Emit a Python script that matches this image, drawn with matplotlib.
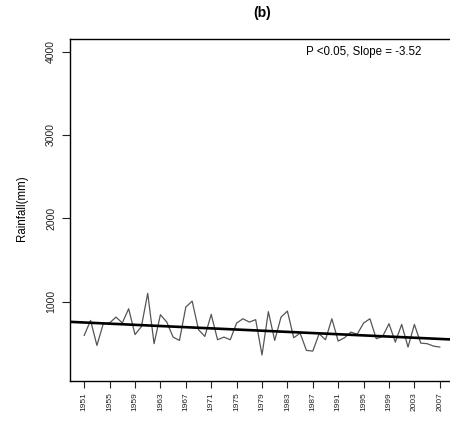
import numpy as np
import matplotlib
matplotlib.use("Agg")
import matplotlib.pyplot as plt

plt.rcParams["font.family"] = ["Liberation Sans", "DejaVu Sans"]

# annual rainfall series (mm)
years = np.arange(1951, 2008)
rainfall = [595, 775, 475, 735, 745, 815, 745, 915, 605, 700,
            1100, 496, 844, 755, 575, 535, 935, 1007, 664, 583,
            848, 543, 575, 543, 743, 795, 755, 784, 360, 880,
            535, 815, 887, 567, 623, 415, 407, 615, 543, 795,
            527, 567, 635, 610, 743, 795, 555, 583, 735, 515,
            727, 455, 727, 503, 496, 467, 455]

# linear trend
slope = -3.52
trend_1951 = 750
tick_years = np.arange(1951, 2008, 4)
y_ticks = [1000, 2000, 3000, 4000]

fig = plt.figure(figsize=(4.5, 4.23), dpi=100)
ax = fig.add_axes([70 / 450, 42 / 423, 384 / 450, 342 / 423])

ax.plot(years, rainfall, color="#555555", lw=0.9)

xl = (1948.76, 2009.24)
xx = np.array(xl)
ax.plot(xx, trend_1951 + slope * (xx - 1951), color="black", lw=1.9)

ax.set_xlim(*xl)
ax.set_ylim(48, 4152)
ax.set_xticks(tick_years)
ax.set_xticklabels([str(y) for y in tick_years], rotation=90, fontsize=6)
ax.set_yticks(y_ticks)
ax.set_yticklabels([str(v) for v in y_ticks], rotation=90, fontsize=7.5, va="center")
ax.tick_params(axis="y", length=6, width=0.8, pad=4, colors="#222222")
ax.tick_params(axis="x", length=5, width=0.8, pad=3, colors="#222222")
for s in ax.spines.values():
    s.set_linewidth(1.0)

ax.text(0.914, 0.962, "P <0.05, Slope = -3.52", transform=ax.transAxes,
        ha="right", va="center", fontsize=8.3)

fig.text(262 / 450, 1 - 13 / 423, "(b)", ha="center", va="center",
         fontsize=10, fontweight="bold")
fig.text(22 / 450, 1 - 208 / 423, "Rainfall(mm)", rotation=90,
         ha="center", va="center", fontsize=8.3)

fig.savefig("out.png", dpi=100)
